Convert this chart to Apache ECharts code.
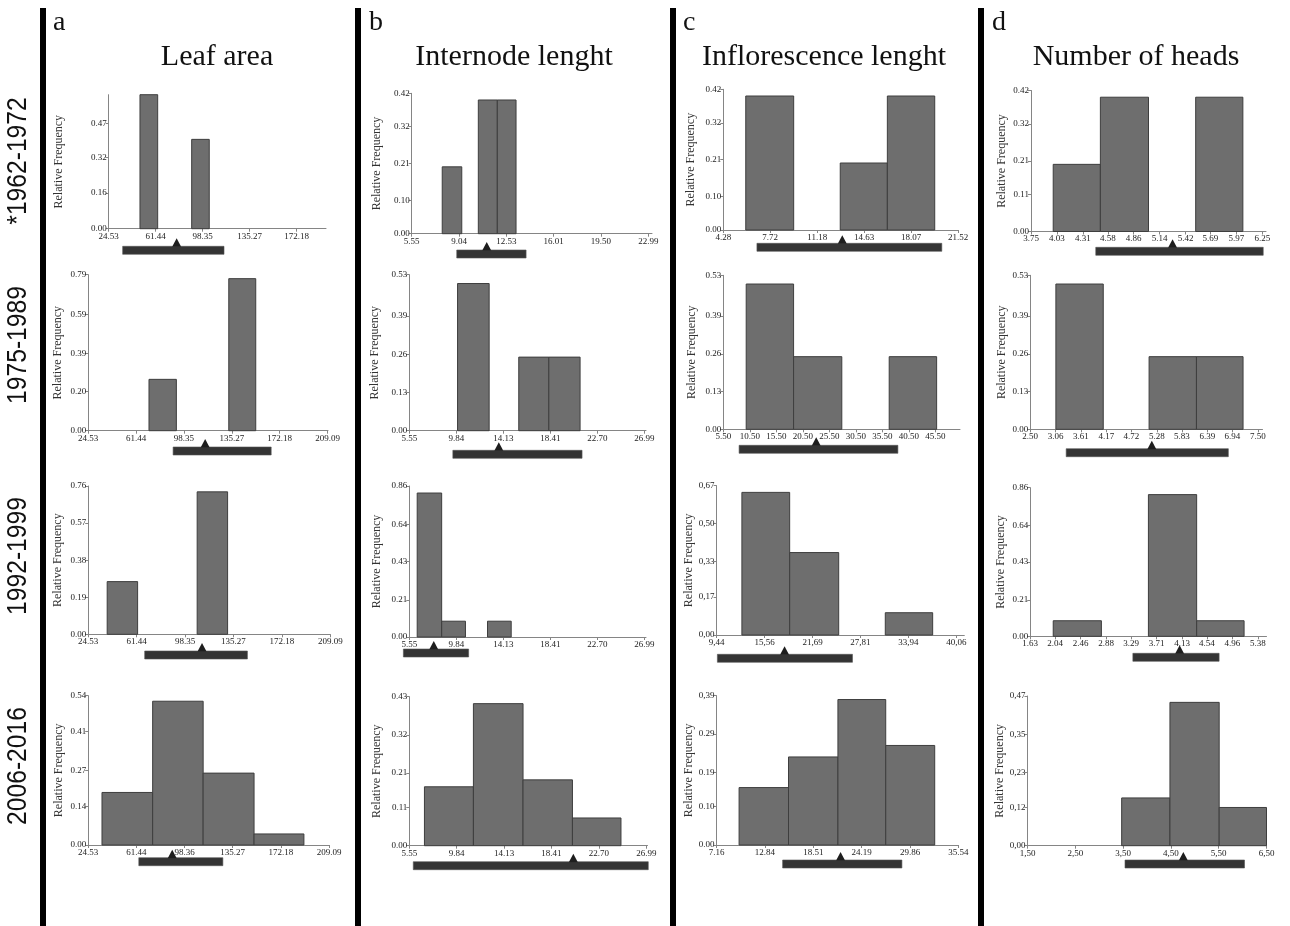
<!DOCTYPE html>
<html><head><meta charset="utf-8">
<script src="https://cdn.jsdelivr.net/npm/echarts@6/dist/echarts.min.js"></script>
<style>html,body{margin:0;padding:0;background:#fff}#c{width:1290px;height:926px}</style>
</head><body><div id="c"></div>
<script>
// ---------- text ----------
const rowLabels = ['*1962-1972', '1975-1989', '1992-1999', '2006-2016'];
const colLetters = ['a', 'b', 'c', 'd'];
const colTitles = ['Leaf area', 'Internode lenght', 'Inflorescence lenght', 'Number of heads'];
const yAxisName = 'Relative Frequency';

// ---------- data: bins [from, to, relative frequency]; summary [low, high, mean]; range [xMin, xMax, yMax] ----------
// a: Leaf area
const leafBins1 = [[49.1, 63.0, 0.60], [89.7, 103.5, 0.40]];
const leafSummary1 = [35.5, 115.1, 77.9];
const leafRange1 = [24.53, 195.2, 0.60];
const leafXTicks1 = ['24.53', '61.44', '98.35', '135.27', '172.18'];
const leafYTicks1 = ['0.00', '0.16', '0.32', '0.47'];

const leafBins2 = [[71.4, 92.5, 0.26], [132.9, 153.7, 0.77]];
const leafSummary2 = [90.0, 165.6, 114.7];
const leafRange2 = [24.53, 209.4, 0.79];
const leafXTicks2 = ['24.53', '61.44', '98.35', '135.27', '172.18', '209.09'];
const leafYTicks2 = ['0.00', '0.20', '0.39', '0.59', '0.79'];

const leafBins3 = [[39.0, 62.2, 0.27], [107.6, 130.8, 0.73]];
const leafSummary3 = [67.6, 145.9, 111.3];
const leafRange3 = [24.53, 209.09, 0.76];
const leafXTicks3 = ['24.53', '61.44', '98.35', '135.27', '172.18', '209.09'];
const leafYTicks3 = ['0.00', '0.19', '0.38', '0.57', '0.76'];

const leafBins4 = [[35.1, 73.9, 0.19], [73.9, 112.6, 0.52], [112.6, 151.6, 0.26], [151.6, 189.8, 0.04]];
const leafSummary4 = [63.3, 127.7, 88.9];
const leafRange4 = [24.53, 209.09, 0.54];
const leafXTicks4 = ['24.53', '61.44', '98.36', '135.27', '172.18', '209.09'];
const leafYTicks4 = ['0.00', '0.14', '0.27', '0.41', '0.54'];

// b: Internode lenght
const interBins1 = [[7.80, 9.24, 0.20], [10.46, 11.86, 0.40], [11.86, 13.24, 0.40]];
const interSummary1 = [8.87, 13.98, 11.08];
const interRange1 = [5.55, 23.26, 0.42];
const interXTicks1 = ['5.55', '9.04', '12.53', '16.01', '19.50', '22.99'];
const interYTicks1 = ['0.00', '0.10', '0.21', '0.32', '0.42'];

const interBins2 = [[9.95, 12.83, 0.50], [15.53, 18.27, 0.25], [18.27, 21.12, 0.25]];
const interSummary2 = [9.52, 21.30, 13.71];
const interRange2 = [5.55, 27.13, 0.53];
const interXTicks2 = ['5.55', '9.84', '14.13', '18.41', '22.70', '26.99'];
const interYTicks2 = ['0.00', '0.13', '0.26', '0.39', '0.53'];

const interBins3 = [[6.27, 8.50, 0.82], [8.50, 10.67, 0.09], [12.68, 14.84, 0.09]];
const interSummary3 = [5.01, 10.96, 7.78];
const interRange3 = [5.55, 27.13, 0.86];
const interXTicks3 = ['5.55', '9.84', '14.13', '18.41', '22.70', '26.99'];
const interYTicks3 = ['0.00', '0.21', '0.43', '0.64', '0.86'];

const interBins4 = [[6.92, 11.35, 0.17], [11.35, 15.84, 0.41], [15.84, 20.31, 0.19], [20.31, 24.70, 0.08]];
const interSummary4 = [5.91, 27.17, 20.39];
const interRange4 = [5.55, 27.1, 0.43];
const interXTicks4 = ['5.55', '9.84', '14.13', '18.41', '22.70', '26.99'];
const interYTicks4 = ['0.00', '0.11', '0.21', '0.32', '0.43'];

// c: Inflorescence lenght
const inflBins1 = [[5.93, 9.45, 0.40], [12.87, 16.33, 0.20], [16.33, 19.81, 0.40]];
const inflSummary1 = [6.75, 20.33, 13.02];
const inflRange1 = [4.28, 21.52, 0.42];
const inflXTicks1 = ['4.28', '7.72', '11.18', '14.63', '18.07', '21.52'];
const inflYTicks1 = ['0.00', '0.10', '0.21', '0.32', '0.42'];

const inflBins2 = [[9.82, 18.76, 0.50], [18.76, 27.86, 0.25], [36.80, 45.75, 0.25]];
const inflSummary2 = [8.48, 38.44, 23.03];
const inflRange2 = [5.50, 50.16, 0.53];
const inflXTicks2 = ['5.50', '10.50', '15.50', '20.50', '25.50', '30.50', '35.50', '40.50', '45.50'];
const inflYTicks2 = ['0.00', '0.13', '0.26', '0.39', '0.53'];

const inflBins3 = [[12.67, 18.77, 0.64], [18.77, 25.03, 0.37], [30.98, 37.03, 0.10]];
const inflSummary3 = [9.54, 26.79, 18.12];
const inflRange3 = [9.44, 41.07, 0.67];
const inflXTicks3 = ['9,44', '15,56', '21,69', '27,81', '33,94', '40,06'];
const inflYTicks3 = ['0,00', '0,17', '0,33', '0,50', '0,67'];

const inflBins4 = [[9.80, 15.60, 0.15], [15.60, 21.40, 0.23], [21.40, 27.01, 0.38], [27.01, 32.76, 0.26]];
const inflSummary4 = [14.91, 28.91, 21.71];
const inflRange4 = [7.16, 35.54, 0.39];
const inflXTicks4 = ['7.16', '12.84', '18.51', '24.19', '29.86', '35.54'];
const inflYTicks4 = ['0.00', '0.10', '0.19', '0.29', '0,39'];

// d: Number of heads
const headBins1 = [[3.99, 4.50, 0.20], [4.50, 5.02, 0.40], [5.53, 6.04, 0.40]];
const headSummary1 = [4.45, 6.26, 5.28];
const headRange1 = [3.75, 6.29, 0.42];
const headXTicks1 = ['3.75', '4.03', '4.31', '4.58', '4.86', '5.14', '5.42', '5.69', '5.97', '6.25'];
const headYTicks1 = ['0.00', '0.11', '0.21', '0.32', '0.42'];

const headBins2 = [[3.064, 4.104, 0.50], [5.110, 6.150, 0.25], [6.150, 7.173, 0.25]];
const headSummary2 = [3.29, 6.85, 5.17];
const headRange2 = [2.50, 7.60, 0.53];
const headXTicks2 = ['2.50', '3.06', '3.61', '4.17', '4.72', '5.28', '5.83', '6.39', '6.94', '7.50'];
const headYTicks2 = ['0.00', '0.13', '0.26', '0.39', '0.53'];

const headBins3 = [[2.009, 2.802, 0.09], [3.576, 4.370, 0.82], [4.370, 5.151, 0.09]];
const headSummary3 = [3.32, 4.74, 4.09];
const headRange3 = [1.63, 5.52, 0.86];
const headXTicks3 = ['1.63', '2.04', '2.46', '2.88', '3.29', '3.71', '4.13', '4.54', '4.96', '5.38'];
const headYTicks3 = ['0.00', '0.21', '0.43', '0.64', '0.86'];

const headBins4 = [[3.47, 4.48, 0.15], [4.48, 5.51, 0.45], [5.51, 6.50, 0.12]];
const headSummary4 = [3.54, 6.04, 4.76];
const headRange4 = [1.50, 6.50, 0.47];
const headXTicks4 = ['1,50', '2,50', '3,50', '4,50', '5,50', '6,50'];
const headYTicks4 = ['0,00', '0,12', '0,23', '0,35', '0,47'];

// ---------- panel assembly (row-major) ----------
const panels = [
  [leafBins1, leafSummary1, leafRange1, leafXTicks1, leafYTicks1],
  [interBins1, interSummary1, interRange1, interXTicks1, interYTicks1],
  [inflBins1, inflSummary1, inflRange1, inflXTicks1, inflYTicks1],
  [headBins1, headSummary1, headRange1, headXTicks1, headYTicks1],
  [leafBins2, leafSummary2, leafRange2, leafXTicks2, leafYTicks2],
  [interBins2, interSummary2, interRange2, interXTicks2, interYTicks2],
  [inflBins2, inflSummary2, inflRange2, inflXTicks2, inflYTicks2],
  [headBins2, headSummary2, headRange2, headXTicks2, headYTicks2],
  [leafBins3, leafSummary3, leafRange3, leafXTicks3, leafYTicks3],
  [interBins3, interSummary3, interRange3, interXTicks3, interYTicks3],
  [inflBins3, inflSummary3, inflRange3, inflXTicks3, inflYTicks3],
  [headBins3, headSummary3, headRange3, headXTicks3, headYTicks3],
  [leafBins4, leafSummary4, leafRange4, leafXTicks4, leafYTicks4],
  [interBins4, interSummary4, interRange4, interXTicks4, interYTicks4],
  [inflBins4, inflSummary4, inflRange4, inflXTicks4, inflYTicks4],
  [headBins4, headSummary4, headRange4, headXTicks4, headYTicks4]
];

// ---------- layout (pixels): [axisLeft, axisRight, axisBottom, axisTop, summaryOffset, nameGap] ----------
const layout = [
  [108.7, 326, 228.7, 94.7, 17.6, 44],
  [411.7, 652, 233.7, 93.3, 16.3, 29],
  [723.3, 958, 230, 89.3, 13.3, 26],
  [1031, 1266, 231.5, 90.5, 15.8, 23],
  [88.2, 328.0, 430.7, 274.7, 16.3, 24],
  [409.3, 646, 430.7, 274.7, 19.6, 28],
  [723.3, 960, 429.3, 275.3, 16, 25],
  [1030.2, 1262.5, 429.3, 275.3, 19.4, 22],
  [88.2, 330.3, 634.3, 486, 16.7, 24],
  [409.3, 646, 637, 486, 12, 26],
  [716.6, 964.3, 635, 485.7, 19.3, 19],
  [1030.2, 1266.5, 636.3, 487.7, 17, 23],
  [88.2, 329.1, 845, 695.7, 12.7, 23],
  [409.3, 647.5, 845.7, 696.7, 16, 26],
  [716.6, 958.4, 845, 695.7, 15, 22],
  [1027.5, 1266.5, 845.7, 696, 14.3, 20]
];

const SERIF = "'Liberation Serif', 'Times New Roman', serif";
const SANS = "'Liberation Sans', Arial, sans-serif";
const AXIS_COLOR = '#858585';
const num = s => parseFloat(String(s).replace(',', '.'));
const labelFor = (labels) => (v) => {
  let best = labels[0], bd = Infinity;
  labels.forEach(l => { const d = Math.abs(num(l) - v); if (d < bd) { bd = d; best = l; } });
  return best;
};

const grids = [], xAxes = [], yAxes = [], series = [];
panels.forEach((p, i) => {
  const [bins, summary, range, xTicks, yTicks] = p;
  const [x0, x1, y0, yTop, sOff, nameGap] = layout[i];
  grids.push({ left: x0, top: yTop, width: x1 - x0, height: y0 - yTop, containLabel: false, outerBoundsMode: 'none' });
  const xVals = xTicks.map(num), yVals = yTicks.map(num);
  xAxes.push({
    type: 'value', gridIndex: i, min: range[0], max: range[1],
    axisLine: { show: true, onZero: false, lineStyle: { color: AXIS_COLOR, width: 1 } },
    axisTick: { show: true, length: 3, customValues: xVals, lineStyle: { color: AXIS_COLOR } },
    axisLabel: { customValues: xVals, formatter: labelFor(xTicks), fontFamily: SERIF, fontSize: 9, color: '#222', margin: 3, showMinLabel: true, showMaxLabel: true },
    splitLine: { show: false }
  });
  yAxes.push({
    type: 'value', gridIndex: i, min: 0, max: range[2],
    name: yAxisName, nameLocation: 'middle', nameGap: nameGap, nameRotate: 90,
    nameTextStyle: { fontFamily: SERIF, fontSize: 12, color: '#333' },
    axisLine: { show: true, onZero: false, lineStyle: { color: AXIS_COLOR, width: 1 } },
    axisTick: { show: true, length: 3, customValues: yVals, lineStyle: { color: AXIS_COLOR } },
    axisLabel: { customValues: yVals, formatter: labelFor(yTicks), fontFamily: SERIF, fontSize: 9, color: '#222', margin: 2, showMinLabel: true, showMaxLabel: true },
    splitLine: { show: false }
  });
  series.push({
    type: 'custom', xAxisIndex: i, yAxisIndex: i, clip: false, silent: true,
    data: bins,
    renderItem: (params, api) => {
      const a = api.coord([api.value(0), api.value(2)]);
      const b = api.coord([api.value(1), 0]);
      return { type: 'rect', shape: { x: a[0], y: a[1], width: b[0] - a[0], height: b[1] - a[1] },
        style: { fill: '#6e6e6e', stroke: '#3e3e3e', lineWidth: 1 } };
    }
  });
  series.push({
    type: 'custom', xAxisIndex: i, yAxisIndex: i, clip: false, silent: true,
    data: [summary],
    renderItem: (params, api) => {
      const a = api.coord([api.value(0), 0]);
      const b = api.coord([api.value(1), 0]);
      const m = api.coord([api.value(2), 0]);
      const top = a[1] + sOff;
      return { type: 'group', children: [
        { type: 'rect', shape: { x: a[0], y: top, width: b[0] - a[0], height: 8 }, style: { fill: '#343434', stroke: '#555', lineWidth: 0.6 } },
        { type: 'polygon', shape: { points: [[m[0] - 4.5, top + 0.5], [m[0] + 4.5, top + 0.5], [m[0], top - 8]] }, style: { fill: '#1e1e1e' } }
      ] };
    }
  });
});

// ---------- decorations ----------
const graphic = [];
[40, 355, 670, 978].forEach(x => graphic.push({ type: 'rect', shape: { x: x, y: 8, width: 6, height: 918 }, style: { fill: '#000' }, silent: true }));
const letterX = [53, 369, 683, 992];
colLetters.forEach((t, i) => graphic.push({ type: 'text', x: letterX[i], y: 23, style: { text: t, font: '28px ' + SERIF, fill: '#111', align: 'left', verticalAlign: 'middle' } }));
const titleX = [217, 514, 824, 1136];
colTitles.forEach((t, i) => graphic.push({ type: 'text', x: titleX[i], y: 57, style: { text: t, font: '30px ' + SERIF, fill: '#111', align: 'center', verticalAlign: 'middle' } }));
const rowY = [161, 345, 556, 766];
rowLabels.forEach((t, i) => graphic.push({ type: 'text', x: 18, y: rowY[i], rotation: Math.PI / 2, scaleX: 0.88,
  style: { text: t, font: '28px ' + SANS, fill: '#111', align: 'center', verticalAlign: 'middle' } }));

const chart = echarts.init(document.getElementById('c'), null, { renderer: 'canvas', width: 1290, height: 926 });
chart.setOption({
  backgroundColor: '#fff', animation: false,
  grid: grids, xAxis: xAxes, yAxis: yAxes, series: series, graphic: graphic
});
</script></body></html>
